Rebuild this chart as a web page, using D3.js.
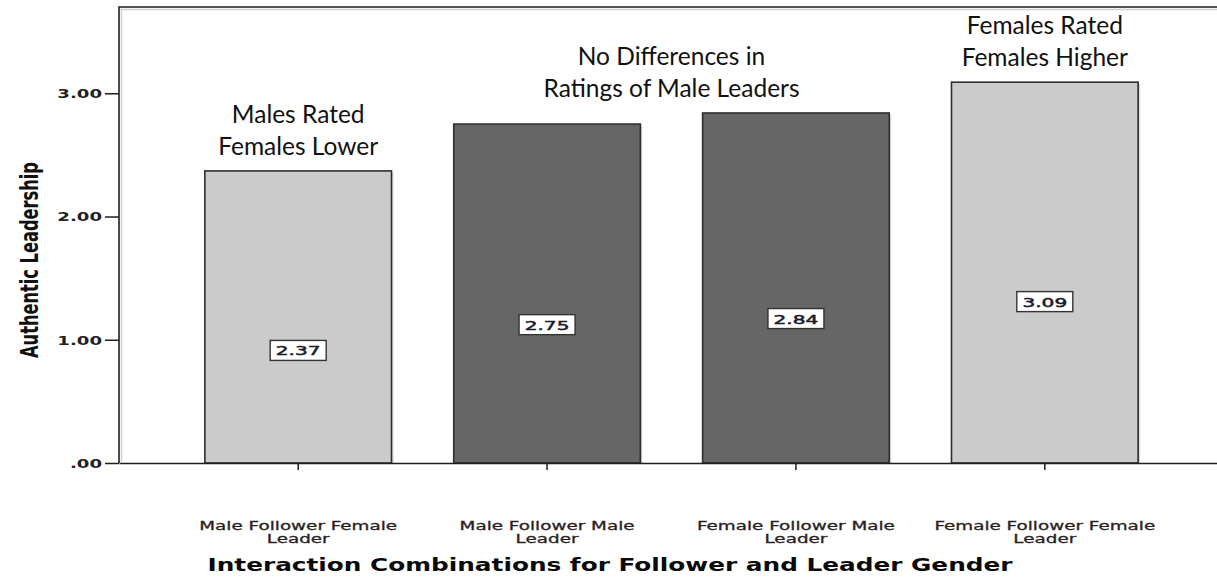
<!DOCTYPE html>
<html>
<head>
<meta charset="utf-8">
<script src="https://cdn.jsdelivr.net/npm/d3@7"></script>
<style>
  body { margin: 0; background: #fff; }
  svg { display: block; }
</style>
</head>
<body>
<svg id="chart" width="1217" height="578"></svg>
<script>
//  data
const categories = ["Male Follower Female Leader", "Male Follower Male Leader",
                    "Female Follower Male Leader", "Female Follower Female Leader"];
const tick_lines = [["Male Follower Female", "Leader"], ["Male Follower Male", "Leader"],
                    ["Female Follower Male", "Leader"], ["Female Follower Female", "Leader"]];
const leader_gender = ["Female", "Male", "Male", "Female"];
const values = [2.37, 2.75, 2.84, 3.09];
const y_ticks = [0, 1, 2, 3];
const note_lines = [["Males Rated", "Females Lower"],
                    ["No Differences in", "Ratings of Male Leaders"],
                    ["Females Rated", "Females Higher"]];
const note_over = [[0], [1, 2], [3]];
const y_title = "Authentic Leadership";
const x_title = "Interaction Combinations for Follower and Leader Gender";

//  draw bar chart
function draw_chart() {
  const W = 1217, H = 578;
  const margin = ({top: 7, right: -7, bottom: 115, left: 119});
  const svg = d3.select("#chart");
  svg.selectAll('*').remove();

  const x = d3.scaleBand()
    .domain(categories)
    .range([margin.left, W - margin.right])
    .paddingInner(0.25)
    .paddingOuter(0.345);
  const y = d3.scaleLinear()
    .domain([0, 3.7])
    .range([H - margin.bottom, margin.top]);
  const color = d3.scaleOrdinal().domain(["Female", "Male"]).range(["#cbcbcb", "#666666"]);

  //  stretch text horizontally like the original export
  const stretch = (sel, sx) => sel.each(function() {
    const t = d3.select(this);
    const tx = +t.attr("x") || 0, ty = +t.attr("y") || 0;
    t.attr("x", 0).attr("y", 0).attr("transform", `translate(${tx},${ty}) scale(${sx},1)`);
  });

  //  frame shadow + frame
  svg.append("path")
    .attr("d", `M${margin.left + 2.5},${y(0) - 1}V${margin.top + 2.5}H${W}`)
    .attr("fill", "none").attr("stroke", "#d0d0d0").attr("stroke-width", 1.5);
  svg.append("path")
    .attr("d", `M${margin.left},${y(0)}V${margin.top}H${W}`)
    .attr("fill", "none").attr("stroke", "#1e1e1e").attr("stroke-width", 1.6);

  //  bars
  const bars = svg.append("g");
  bars.selectAll("rect.shadow")
    .data(values)
    .join("rect")
      .attr("class", "shadow")
      .attr("x", (d, i) => x(categories[i]) + 2)
      .attr("y", d => y(d) + 2)
      .attr("width", x.bandwidth())
      .attr("height", d => y(0) - y(d) - 2)
      .attr("fill", "#dddddd");
  bars.selectAll("rect.bar")
    .data(values)
    .join("rect")
      .attr("class", "bar")
      .attr("x", (d, i) => x(categories[i]))
      .attr("y", d => y(d))
      .attr("width", x.bandwidth())
      .attr("height", d => y(0) - y(d))
      .attr("fill", (d, i) => color(leader_gender[i]))
      .attr("stroke", "#2e2e2e")
      .attr("stroke-width", 1.6);

  //  value labels in boxes
  const lab = svg.append("g").selectAll("g")
    .data(values)
    .join("g")
      .attr("transform", (d, i) => `translate(${x(categories[i]) + x.bandwidth() / 2},${y(d * 0.55 - 0.39)})`);
  lab.append("rect")
    .attr("x", -28).attr("y", -10).attr("width", 56).attr("height", 20)
    .attr("fill", "#fff").attr("stroke", "#333").attr("stroke-width", 1.4);
  lab.append("text")
    .attr("y", 5)
    .attr("text-anchor", "middle")
    .style("font-family", "DejaVu Sans")
    .style("font-size", "13px")
    .attr("fill", "#1a1a2a")
    .attr("stroke", "#1a1a2a").attr("stroke-width", 0.5)
    .text(d => d.toFixed(2))
    .call(stretch, 1.55);

  //  y axis
  const yAxis = svg.append("g")
    .attr("transform", `translate(${margin.left},0)`)
    .call(d3.axisLeft(y).tickValues(y_ticks).tickSize(14).tickSizeOuter(0).tickPadding(3)
      .tickFormat(d => d3.format(".2f")(d).replace(/^0/, "")));
  yAxis.select(".domain").remove();
  yAxis.selectAll(".tick line").attr("stroke", "#1e1e1e").attr("stroke-width", 1.5);
  yAxis.selectAll(".tick text")
    .style("font-family", "DejaVu Sans")
    .style("font-size", "12.5px")
    .style("font-weight", "bold")
    .attr("fill", "#222")
    .each(function() { d3.select(this).attr("y", 4.4).attr("dy", null); })
    .call(stretch, 1.45);

  //  x axis
  const xAxis = svg.append("g")
    .attr("transform", `translate(0,${y(0)})`)
    .call(d3.axisBottom(x).tickSize(7).tickSizeOuter(0).tickFormat(""));
  xAxis.select(".domain").attr("stroke", "#1e1e1e").attr("stroke-width", 1.6);
  xAxis.selectAll(".tick line").attr("stroke", "#1e1e1e").attr("stroke-width", 1.5);
  xAxis.selectAll(".tick").each(function(d, i) {
    tick_lines[i].forEach((s, k) => {
      d3.select(this).append("text")
        .attr("x", 0).attr("y", 67 + k * 12.5)
        .attr("text-anchor", "middle")
        .style("font-family", "DejaVu Sans")
        .style("font-size", "12px")
        .attr("fill", "#2a1f1f")
        .attr("stroke", "#2a1f1f").attr("stroke-width", 0.3)
        .text(s)
        .call(stretch, 1.53);
    });
  });

  //  axis titles
  svg.append("text")
    .attr("transform", `translate(38,260) rotate(-90)`)
    .attr("text-anchor", "middle")
    .style("font-family", "'Liberation Sans Narrow', 'DejaVu Sans Condensed', sans-serif")
    .style("font-size", "25px")
    .style("font-weight", "bold")
    .attr("fill", "#111")
    .attr("textLength", 196)
    .attr("lengthAdjust", "spacingAndGlyphs")
    .text(y_title);

  svg.append("text")
    .attr("x", 610).attr("y", 571)
    .attr("text-anchor", "middle")
    .style("font-family", "DejaVu Sans")
    .style("font-size", "17px")
    .style("font-weight", "bold")
    .attr("fill", "#0a0a0a")
    .attr("textLength", 805)
    .attr("lengthAdjust", "spacingAndGlyphs")
    .text(x_title);

  //  annotations above bars
  note_lines.forEach((lines, n) => {
    const idx = note_over[n];
    const cx = d3.mean(idx, i => x(categories[i]) + x.bandwidth() / 2);
    const top = d3.min(idx, i => y(values[i]));
    lines.forEach((s, k) => {
      svg.append("text")
        .attr("x", cx)
        .attr("y", top - 16 - (lines.length - 1 - k) * 32)
        .attr("text-anchor", "middle")
        .style("font-family", "Lato")
        .style("font-size", "24.5px")
        .attr("fill", "#111")
        .text(s);
    });
  });
}

draw_chart();
</script>
</body>
</html>
